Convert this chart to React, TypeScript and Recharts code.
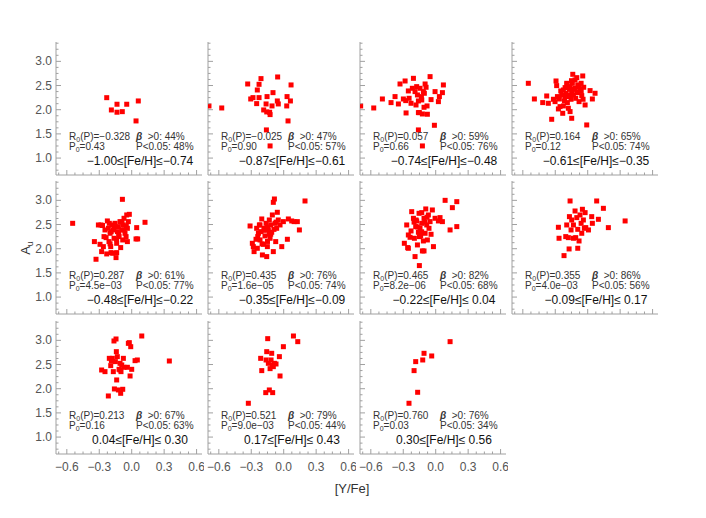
import React from 'react';
import { ScatterChart, Scatter, XAxis, YAxis } from 'recharts';

// [Y/Fe], A_u pairs for each metallicity bin
const bin1 = [
  [-0.231, 2.249], [-0.188, 1.995], [-0.136, 2.113], [-0.136, 1.948],
  [-0.087, 1.96], [-0.046, 2.113], [0.061, 2.181], [0.04, 1.768],
];
const bin2 = [
  [-0.691, 2.078], [-0.573, 2.036], [-0.333, 2.532], [-0.228, 2.525], [-0.21, 2.643],
  [-0.244, 2.408], [-0.305, 2.222], [-0.284, 2.25], [-0.25, 2.126], [-0.228, 2.25],
  [-0.185, 1.995], [-0.157, 1.954], [-0.13, 1.947], [-0.126, 1.899], [-0.163, 2.119],
  [-0.154, 2.271], [-0.099, 2.353], [-0.108, 2.078], [-0.056, 2.677], [-0.059, 2.181],
  [-0.05, 2.119], [0.031, 2.271], [0.028, 2.078], [0.062, 2.181], [0.068, 2.512],
  [0.04, 1.768], [-0.16, 1.582], [-0.126, 1.251],
];
const bin3 = [
  [-0.694, 2.078], [-0.573, 2.036], [-0.493, 2.222], [-0.413, 2.147], [-0.376, 2.271],
  [-0.345, 2.119], [-0.33, 2.532], [-0.283, 2.594], [-0.299, 2.222], [-0.277, 2.188],
  [-0.274, 1.933], [-0.253, 2.388], [-0.246, 2.236], [-0.228, 2.133], [-0.206, 2.649],
  [-0.216, 2.443], [-0.191, 2.374], [-0.176, 2.477], [-0.169, 2.305], [-0.182, 2.098],
  [-0.16, 2.181], [-0.145, 2.443], [-0.132, 2.271], [-0.129, 2.202], [-0.114, 2.374],
  [-0.098, 2.532], [-0.089, 2.464], [-0.08, 2.078], [-0.16, 1.94], [-0.151, 1.94],
  [-0.123, 1.912], [-0.108, 2.05], [-0.077, 1.906], [-0.105, 2.34], [-0.052, 2.684],
  [-0.043, 2.209], [-0.006, 2.374], [0.025, 2.167], [0.034, 2.271], [0.062, 2.353],
  [0.071, 2.512], [-0.012, 1.678], [-0.16, 1.582], [-0.123, 1.251],
];
const bin4 = [
  [-0.549, 2.546], [-0.493, 2.222], [-0.416, 2.147], [-0.379, 2.284], [-0.364, 2.133],
  [-0.333, 1.802], [-0.317, 2.216], [-0.302, 2.167], [-0.293, 2.594], [-0.287, 2.498],
  [-0.28, 2.271], [-0.271, 2.016], [-0.262, 2.222], [-0.249, 2.388], [-0.24, 2.305],
  [-0.231, 1.926], [-0.225, 2.078], [-0.215, 2.181], [-0.209, 2.457], [-0.2, 2.34],
  [-0.194, 2.546], [-0.188, 2.147], [-0.179, 2.271], [-0.169, 2.422], [-0.163, 1.961],
  [-0.154, 2.216], [-0.148, 2.374], [-0.142, 2.546], [-0.138, 2.732], [-0.132, 2.305],
  [-0.148, 1.823], [-0.117, 2.443], [-0.111, 2.236], [-0.101, 2.663], [-0.095, 2.353],
  [-0.092, 2.512], [-0.08, 2.167], [-0.071, 2.422], [-0.061, 2.546], [-0.055, 2.291],
  [-0.046, 2.698], [-0.043, 2.216], [-0.037, 2.464], [-0.024, 2.098], [-0.009, 1.685],
  [0.022, 2.395], [0.043, 2.222], [0.068, 2.34], [-0.256, 2.064], [-0.225, 2.408],
  [-0.163, 2.477], [-0.117, 2.615], [-0.179, 2.03], [-0.17, 2.3], [-0.13, 2.42],
  [-0.1, 2.36], [-0.21, 2.27], [-0.08, 2.47], [-0.15, 2.6], [-0.06, 2.38], [-0.19, 2.52],
];
const bin5 = [
  [-0.546, 2.525], [-0.345, 2.147], [-0.33, 1.782], [-0.308, 2.491], [-0.293, 2.091],
  [-0.284, 2.491], [-0.278, 1.94], [-0.262, 2.043], [-0.256, 2.25], [-0.247, 2.388],
  [-0.237, 2.229], [-0.231, 1.892], [-0.225, 2.574], [-0.216, 2.422], [-0.21, 2.147],
  [-0.2, 2.319], [-0.194, 2.043], [-0.185, 2.491], [-0.176, 1.906], [-0.169, 2.388],
  [-0.163, 2.216], [-0.154, 2.525], [-0.145, 1.816], [-0.139, 2.112], [-0.132, 2.353],
  [-0.123, 2.457], [-0.117, 2.25], [-0.108, 2.56], [-0.102, 2.023], [-0.092, 2.388],
  [-0.086, 3.021], [-0.083, 2.181], [-0.077, 2.491], [-0.071, 2.629], [-0.062, 2.319],
  [-0.052, 2.25], [-0.046, 2.698], [-0.04, 2.422], [-0.031, 2.56], [-0.022, 2.711],
  [-0.04, 2.147], [-0.139, 1.919], [-0.191, 1.919], [0.04, 2.202], [0.055, 2.202],
  [0.046, 2.436], [0.123, 2.546], [-0.207, 2.525], [-0.071, 2.388], [-0.16, 2.45],
  [-0.12, 2.3], [-0.09, 2.55], [-0.19, 2.35], [-0.05, 2.46], [-0.14, 2.2],
  [-0.2, 2.1], [-0.27, 2.48],
];
const bin6 = [
  [-0.311, 2.47], [-0.29, 2.112], [-0.281, 2.043], [-0.274, 1.94], [-0.256, 2.195],
  [-0.25, 2.422], [-0.244, 2.009], [-0.234, 2.319], [-0.225, 2.491], [-0.219, 2.181],
  [-0.21, 2.353], [-0.203, 2.615], [-0.197, 1.871], [-0.188, 2.091], [-0.182, 2.422],
  [-0.173, 2.264], [-0.163, 2.525], [-0.157, 1.837], [-0.151, 2.043], [-0.142, 2.388],
  [-0.133, 2.594], [-0.126, 2.216], [-0.12, 2.491], [-0.111, 2.34], [-0.105, 2.698],
  [-0.096, 2.959], [-0.086, 3.028], [-0.08, 2.525], [-0.074, 2.147], [-0.065, 2.422],
  [-0.059, 2.753], [-0.05, 2.594], [-0.096, 1.94], [-0.018, 2.043], [-0.003, 2.56],
  [0.034, 2.195], [0.043, 2.615], [0.074, 2.574], [0.096, 2.56], [0.126, 2.56],
  [0.145, 2.388], [0.197, 2.987], [-0.219, 2.491], [-0.133, 2.298], [-0.034, 2.491],
  [-0.15, 2.45], [-0.18, 2.38], [-0.12, 2.3], [-0.09, 2.4], [-0.24, 2.25],
  [-0.07, 2.55], [-0.2, 2.1], [-0.15, 2.15],
];
const bin7 = [
  [-0.29, 2.112], [-0.268, 2.491], [-0.259, 2.023], [-0.253, 2.284], [-0.237, 2.236],
  [-0.228, 2.367], [-0.222, 2.766], [-0.206, 2.629], [-0.197, 2.216], [-0.191, 1.837],
  [-0.185, 2.457], [-0.176, 2.574], [-0.169, 2.078], [-0.16, 2.34], [-0.154, 2.732],
  [-0.145, 2.422], [-0.139, 2.264], [-0.129, 2.525], [-0.123, 1.954], [-0.114, 2.16],
  [-0.108, 2.629], [-0.098, 2.319], [-0.092, 2.822], [-0.083, 2.491], [-0.077, 2.181],
  [-0.068, 2.698], [-0.062, 2.422], [-0.052, 2.56], [-0.043, 2.298], [-0.031, 2.801],
  [-0.021, 2.043], [-0.006, 2.629], [0.025, 2.574], [0.04, 2.643], [0.062, 2.56],
  [0.087, 3.0], [0.133, 2.388], [0.154, 2.849], [0.195, 2.973], [0.195, 2.457],
  [-0.108, 1.954], [-0.151, 1.651], [-0.253, 2.009], [-0.182, 2.594], [-0.129, 2.746],
  [-0.17, 2.45], [-0.13, 2.35], [-0.1, 2.55], [-0.2, 2.55], [-0.15, 2.25], [-0.08, 2.65],
];
const bin8 = [
  [-0.271, 2.443], [-0.265, 2.216], [-0.219, 1.857], [-0.203, 2.25], [-0.194, 2.491],
  [-0.179, 2.229], [-0.172, 1.995], [-0.169, 2.663], [-0.163, 2.987], [-0.154, 2.388],
  [-0.148, 2.594], [-0.132, 2.491], [-0.117, 2.78], [-0.111, 2.229], [-0.101, 2.643],
  [-0.092, 2.009], [-0.092, 2.401], [-0.08, 2.16], [-0.071, 2.698], [-0.061, 2.525],
  [-0.049, 2.815], [-0.04, 2.594], [-0.031, 2.422], [-0.024, 2.746], [-0.018, 2.436],
  [0.007, 2.388], [0.037, 2.663], [0.043, 2.525], [0.083, 2.987], [0.099, 2.608],
  [0.145, 2.835], [0.191, 2.436], [0.346, 2.574], [-0.132, 2.216], [-0.055, 2.319],
];
const bin9 = [
  [-0.278, 2.387], [-0.247, 2.353], [-0.216, 1.85], [-0.207, 2.628], [-0.194, 2.477],
  [-0.188, 2.58], [-0.179, 2.628], [-0.17, 2.353], [-0.164, 2.987], [-0.16, 1.995],
  [-0.151, 2.56], [-0.145, 3.028], [-0.142, 2.766], [-0.139, 2.181], [-0.133, 2.663],
  [-0.123, 1.974], [-0.117, 2.401], [-0.108, 2.525], [-0.102, 1.905], [-0.099, 2.353],
  [-0.092, 2.491], [-0.083, 1.988], [-0.077, 2.628], [-0.071, 2.443], [-0.04, 2.443],
  [-0.031, 2.938], [-0.022, 2.952], [-0.015, 2.263], [-0.009, 2.869], [0.0, 2.401],
  [0.031, 2.58], [0.052, 2.594], [0.093, 3.09], [0.348, 2.573], [-0.108, 2.387],
];
const bin10 = [
  [-0.327, 1.699], [-0.213, 2.628], [-0.203, 2.374], [-0.166, 1.919], [-0.148, 3.035],
  [-0.163, 2.594], [-0.157, 2.766], [-0.142, 2.525], [-0.133, 1.974], [-0.126, 2.415],
  [-0.117, 2.594], [-0.111, 2.732], [-0.105, 2.491], [-0.102, 1.919], [-0.096, 2.456],
  [-0.086, 2.525], [-0.071, 2.511], [-0.04, 2.663], [-0.034, 2.263], [-0.003, 2.869],
  [0.09, 3.09], [0.13, 2.973],
];
const bin11 = [
  [-0.247, 1.699], [-0.167, 1.926], [-0.2, 2.374], [-0.185, 2.56],
  [-0.12, 2.594], [-0.108, 2.732], [-0.037, 2.677], [0.133, 2.973],
];

const bins = [bin1, bin2, bin3, bin4, bin5, bin6, bin7, bin8, bin9, bin10, bin11];

const rValues = ['\u22120.328', '\u22120.025', '0.057', '0.164', '0.287', '0.435', '0.465', '0.355', '0.213', '0.521', '0.760'];
const pValues = ['0.43', '0.90', '0.66', '0.12', '4.5e\u221203', '1.6e\u221205', '8.2e\u221206', '4.0e\u221203', '0.16', '9.0e\u221203', '0.03'];
const betaPositive = [44, 47, 59, 65, 61, 76, 82, 86, 67, 79, 76];
const pSignificant = [48, 57, 76, 74, 77, 74, 68, 56, 63, 44, 34];
const feRanges = [
  '\u22121.00\u2264[Fe/H]\u2264\u22120.74',
  '\u22120.87\u2264[Fe/H]\u2264\u22120.61',
  '\u22120.74\u2264[Fe/H]\u2264\u22120.48',
  '\u22120.61\u2264[Fe/H]\u2264\u22120.35',
  '\u22120.48\u2264[Fe/H]\u2264\u22120.22',
  '\u22120.35\u2264[Fe/H]\u2264\u22120.09',
  '\u22120.22\u2264[Fe/H]\u2264 0.04',
  '\u22120.09\u2264[Fe/H]\u2264 0.17',
  '0.04\u2264[Fe/H]\u2264 0.30',
  '0.17\u2264[Fe/H]\u2264 0.43',
  '0.30\u2264[Fe/H]\u2264 0.56',
];

const xMajor = [-0.6, -0.3, 0, 0.3, 0.6];
const xTicks = [-0.675, -0.6, -0.525, -0.45, -0.375, -0.3, -0.225, -0.15, -0.075, 0, 0.075, 0.15, 0.225, 0.3, 0.375, 0.45, 0.525, 0.6];
const yMajor = [1.0, 1.5, 2.0, 2.5, 3.0];
const yTicks = [0.75, 0.875, 1.0, 1.125, 1.25, 1.375, 1.5, 1.625, 1.75, 1.875, 2.0, 2.125, 2.25, 2.375, 2.5, 2.625, 2.75, 2.875, 3.0, 3.125, 3.25, 3.375];

const COL_LEFT = [56, 208, 360, 512];
const ROW_TOP = [42, 181, 321];
const PW = 146;
const PH = 133;
const AXIS_W = 40;
const AXIS_H = 26;
const PAD = 2;
const AXIS_COLOR = '#a0a0a0';
const LABEL_COLOR = '#555';
const FONT = '"Liberation Sans", Arial, sans-serif';

const isMajor = (list: number[], v: number) => list.some((m) => Math.abs(m - v) < 1e-9);
const fmt = (v: number) => (v < 0 ? '\u2212' + Math.abs(v).toFixed(1) : v.toFixed(1));

const bottomTick = (showLabel: boolean) => (props: any) => {
  const { x, y, payload } = props;
  const major = isMajor(xMajor, payload.value);
  return (
    <g>
      <line x1={x} y1={y} x2={x} y2={y - (major ? 5 : 2.5)} stroke={AXIS_COLOR} />
      {showLabel && major && (
        <text x={x} y={y + 17} textAnchor="middle" fontSize={12} fill={LABEL_COLOR} fontFamily={FONT}>
          {fmt(payload.value)}
        </text>
      )}
    </g>
  );
};

const topTick = (props: any) => {
  const { x, y, payload } = props;
  const major = isMajor(xMajor, payload.value);
  return <line x1={x} y1={y} x2={x} y2={y + (major ? 5 : 2.5)} stroke={AXIS_COLOR} />;
};

const leftTick = (showLabel: boolean) => (props: any) => {
  const { x, y, payload } = props;
  const major = isMajor(yMajor, payload.value);
  return (
    <g>
      <line x1={x} y1={y} x2={x + (major ? 5 : 2.5)} y2={y} stroke={AXIS_COLOR} />
      {showLabel && major && (
        <text x={x - 4} y={y + 4} textAnchor="end" fontSize={12} fill={LABEL_COLOR} fontFamily={FONT}>
          {fmt(payload.value)}
        </text>
      )}
    </g>
  );
};

const rightTick = (props: any) => {
  const { x, y, payload } = props;
  const major = isMajor(yMajor, payload.value);
  return <line x1={x} y1={y} x2={x - (major ? 5 : 2.5)} y2={y} stroke={AXIS_COLOR} />;
};

const square = (props: any) => (
  <rect x={props.cx - 2.5} y={props.cy - 2.5} width={5} height={5} fill="#ff0000" />
);

const Panel = ({ idx }: { idx: number }) => {
  const col = idx % 4;
  const row = Math.floor(idx / 4);
  const data = bins[idx].map(([x, y]) => ({ x, y }));
  return (
    <div style={{ position: 'absolute', left: COL_LEFT[col] - AXIS_W, top: ROW_TOP[row] - PAD }}>
      <ScatterChart
        width={AXIS_W + PW + PAD}
        height={PAD + PH + AXIS_H}
        margin={{ top: PAD, right: PAD, bottom: 0, left: 0 }}
      >
        <XAxis xAxisId="b" type="number" dataKey="x" domain={[-0.7, 0.65]} ticks={xTicks} interval={0}
          allowDataOverflow orientation="bottom" height={AXIS_H} tickSize={0} tickMargin={0}
          tickLine={false} axisLine={{ stroke: AXIS_COLOR }} tick={bottomTick(row === 2)} />
        <XAxis xAxisId="t" type="number" dataKey="x" domain={[-0.7, 0.65]} ticks={xTicks} interval={0}
          allowDataOverflow orientation="top" height={0} tickSize={0} tickMargin={0}
          tickLine={false} axisLine={{ stroke: AXIS_COLOR }} tick={topTick} />
        <YAxis yAxisId="l" type="number" dataKey="y" domain={[0.65, 3.4]} ticks={yTicks} interval={0}
          allowDataOverflow orientation="left" width={AXIS_W} tickSize={0} tickMargin={0}
          tickLine={false} axisLine={{ stroke: AXIS_COLOR }} tick={leftTick(col === 0)} />
        <YAxis yAxisId="r" type="number" dataKey="y" domain={[0.65, 3.4]} ticks={yTicks} interval={0}
          allowDataOverflow orientation="right" width={0} tickSize={0} tickMargin={0}
          tickLine={false} axisLine={{ stroke: AXIS_COLOR }} tick={rightTick} />
        <Scatter xAxisId="b" yAxisId="l" data={data} shape={square} isAnimationActive={false} />
        <Scatter xAxisId="t" yAxisId="r" data={data} shape={() => <g />} isAnimationActive={false} />
      </ScatterChart>
    </div>
  );
};

const Labels = () => (
  <svg width={706} height={518} style={{ position: 'absolute', left: 0, top: 0, pointerEvents: 'none' }}
    fontFamily={FONT}>
    {bins.map((_, i) => {
      const left = COL_LEFT[i % 4];
      const top = ROW_TOP[Math.floor(i / 4)];
      return (
        <g key={i} fill="#333" fontSize={10}>
          <text x={left + 13} y={top + 98}>
            R<tspan fontSize={7} dy={2}>0</tspan><tspan dy={-2}>(P)={rValues[i]}</tspan>
          </text>
          <text x={left + 80} y={top + 98}>
            <tspan fontWeight="bold" fontStyle="italic">{'\u03b2'}</tspan>{'\u00a0 >0: ' + betaPositive[i] + '%'}
          </text>
          <text x={left + 13} y={top + 108}>
            P<tspan fontSize={7} dy={2}>0</tspan><tspan dy={-2}>={pValues[i]}</tspan>
          </text>
          <text x={left + 80} y={top + 108}>{'P<0.05: ' + pSignificant[i] + '%'}</text>
          <text x={left + 84} y={top + 123} textAnchor="middle" fontSize={12} fill="#111">
            {feRanges[i]}
          </text>
        </g>
      );
    })}
    <text x={352} y={493} textAnchor="middle" fontSize={13} fill="#333">[Y/Fe]</text>
    <text transform="translate(30 248) rotate(-90)" textAnchor="middle" fontSize={13} fill="#333">
      A<tspan fontSize={9} dy={3}>u</tspan>
    </text>
  </svg>
);

export default function App() {
  return (
    <div style={{ position: 'absolute', left: 0, top: 0, width: 706, height: 518, background: '#fff' }}>
      {bins.map((_, i) => (
        <Panel key={i} idx={i} />
      ))}
      <Labels />
    </div>
  );
}
